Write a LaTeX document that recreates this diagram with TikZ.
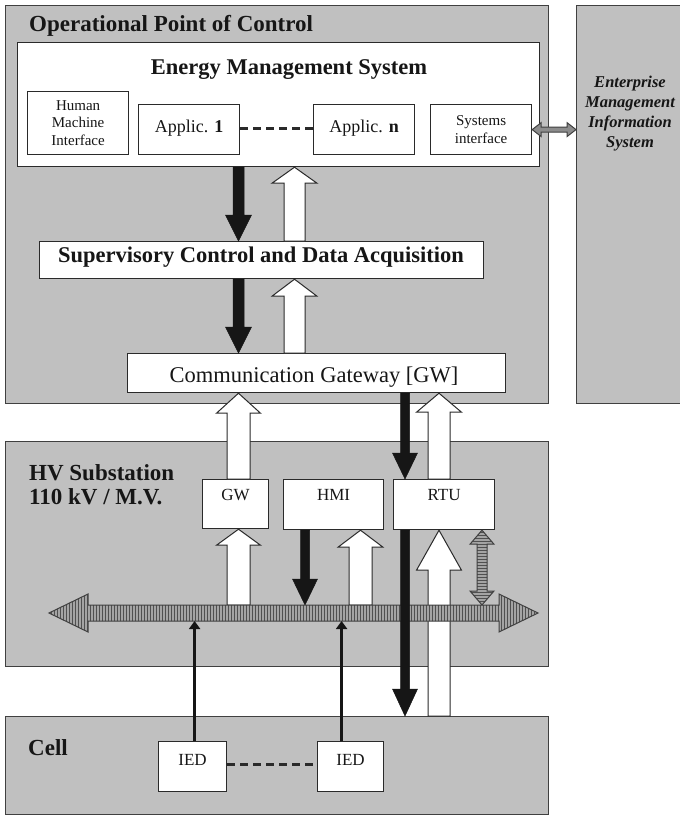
\documentclass[tikz,border=0pt]{standalone}
\usepackage{fontspec}
\setmainfont{Liberation Serif}
\usetikzlibrary{arrows.meta,patterns,calc}

\definecolor{panelgray}{HTML}{C0C0C0}
\definecolor{edge}{HTML}{404040}
\definecolor{ink}{HTML}{161616}
\definecolor{boxedge}{HTML}{2A2A2A}
\definecolor{busfill}{HTML}{A4A4A4}
\definecolor{hatch}{HTML}{505050}
\definecolor{linkgray}{HTML}{8C8C8C}

% vertical block arrow: style, x, from, to, shaft half, head half, head length
\newcommand\varr[7]{%
  \path[#1] let \p1=(#3), \p2=(#4), \n1={sign(\y2-\y1)} in
    (#2pt-#5pt,\y1) -- (#2pt-#5pt,{\y2-(\n1)*#7pt}) -- (#2pt-#6pt,{\y2-(\n1)*#7pt})
    -- (#2pt,\y2) -- (#2pt+#6pt,{\y2-(\n1)*#7pt}) -- (#2pt+#5pt,{\y2-(\n1)*#7pt})
    -- (#2pt+#5pt,\y1) -- cycle;}
% horizontal double block arrow: style, left end, right end, shaft half, head half, head length
\newcommand\hdarr[6]{%
  \path[#1] let \p1=(#2), \p2=(#3) in
   (\x1,\y1) -- (\x1+#6pt,\y1+#5pt) -- (\x1+#6pt,\y1+#4pt) -- (\x2-#6pt,\y1+#4pt)
   -- (\x2-#6pt,\y1+#5pt) -- (\x2,\y1) -- (\x2-#6pt,\y1-#5pt) -- (\x2-#6pt,\y1-#4pt)
   -- (\x1+#6pt,\y1-#4pt) -- (\x1+#6pt,\y1-#5pt) -- cycle;}
% vertical double block arrow: style, top end, bottom end, shaft half, head half, head length
\newcommand\vdarr[6]{%
  \path[#1] let \p1=(#2), \p2=(#3) in
   (\x1,\y1) -- (\x1+#5pt,\y1-#6pt) -- (\x1+#4pt,\y1-#6pt) -- (\x1+#4pt,\y2+#6pt)
   -- (\x1+#5pt,\y2+#6pt) -- (\x1,\y2) -- (\x1-#5pt,\y2+#6pt) -- (\x1-#4pt,\y2+#6pt)
   -- (\x1-#4pt,\y1-#6pt) -- (\x1-#5pt,\y1-#6pt) -- cycle;}

\begin{document}
\begin{tikzpicture}[x=1pt,y=-1pt,
  panel/.style={draw=edge, line width=1.3pt, fill=panelgray, anchor=north west, inner sep=0pt},
  box/.style={draw=boxedge, line width=1.2pt, fill=white, anchor=north west, inner sep=0pt},
  txt/.style={text=ink, inner sep=0pt},
  ptitle/.style={txt, font=\fontsize{23}{26}\selectfont\bfseries, anchor=base west},
  bigb/.style={txt, font=\fontsize{22.5}{26}\selectfont\bfseries, anchor=base},
  bigr/.style={txt, font=\fontsize{22.5}{26}\selectfont, anchor=base},
  apptxt/.style={txt, font=\fontsize{18}{21}\selectfont},
  smalltxt/.style={txt, font=\fontsize{15}{17.5}\selectfont, align=center},
  lbl/.style={txt, font=\fontsize{17}{20}\selectfont, anchor=base},
  emistxt/.style={txt, font=\fontsize{16.5}{20}\selectfont\bfseries\itshape, align=center},
  blackarr/.style={fill=ink, draw=ink, line width=0.5pt},
  whitearr/.style={fill=white, draw=boxedge, line width=1pt},
  busarr/.style={draw=edge, line width=1pt, preaction={fill=busfill}, pattern=vertical lines, pattern color=hatch},
  vbusarr/.style={draw=edge, line width=1pt, preaction={fill=busfill}, pattern=horizontal lines, pattern color=hatch},
  linkarr/.style={fill=linkgray, draw=edge, line width=1pt},
  iedlink/.style={draw=ink, line width=2.6pt, -{Triangle[length=8pt,width=11pt]}},
  dashlink/.style={draw=boxedge, line width=2.5pt, dash pattern=on 8pt off 5pt}
]
\useasboundingbox (0,0) rectangle (680,815);
\fill[white] (0,0) rectangle (680,815);

% ---------- panels ----------
\node[panel, minimum width=543pt, minimum height=398pt] (opc) at (5,5) {};
\node[panel, minimum width=108pt, minimum height=398pt] (emis) at (576,5) {};
\node[panel, minimum width=543pt, minimum height=225pt] (hvs) at (5,441) {};
\node[panel, minimum width=543pt, minimum height=98pt] (cell) at (5,716) {};

\node[ptitle] at (29,31) {Operational Point of Control};
\node[ptitle] at (29,480) {HV Substation};
\node[ptitle] at (29,504) {110 kV / M.V.};
\node[ptitle] at (28,755) {Cell};
\node[emistxt] at (630,114) {Enterprise\\Management\\Information\\System};

% ---------- EMS ----------
\node[box, minimum width=522pt, minimum height=124pt] (ems) at (17,42) {};
\node[bigb] at (289,74) {Energy Management System};
\node[box, minimum width=101pt, minimum height=63pt] (hmie) at (27,91) {};
\node[smalltxt] at (hmie.center) {Human\\Machine\\Interface};
\node[box, minimum width=101pt, minimum height=50pt] (app1) at (138,104) {};
\node[apptxt] at ([yshift=1pt]app1.center) {Applic. \textbf{1}};
\node[box, minimum width=101pt, minimum height=50pt] (appn) at (313,104) {};
\node[apptxt] at ([yshift=1pt]appn.center) {Applic. \textbf{n}};
\node[box, minimum width=101pt, minimum height=50pt] (sysif) at (430,104) {};
\node[smalltxt, font=\fontsize{15}{18}\selectfont] at (sysif.center) {Systems\\interface};
\draw[dashlink] ([yshift=1pt]app1.east) -- ([yshift=1pt]appn.west);

% ---------- SCADA / Gateway ----------
\node[box, minimum width=444pt, minimum height=37pt] (scada) at (39,241) {};
\node[bigb] at (261,262) {Supervisory Control and Data Acquisition};
\node[box, minimum width=378pt, minimum height=39pt] (cg) at (127,353) {};
\node[bigr] at (314,382) {Communication Gateway [GW]};

% ---------- substation boxes ----------
\node[box, minimum width=66pt, minimum height=49pt] (gw) at (202,479) {};
\node[lbl] at ([yshift=-21pt]gw.north) {GW};
\node[box, minimum width=100pt, minimum height=50pt] (hmi) at (283,479) {};
\node[lbl] at ([yshift=-21pt]hmi.north) {HMI};
\node[box, minimum width=101pt, minimum height=50pt] (rtu) at (393,479) {};
\node[lbl] at ([yshift=-21pt]rtu.north) {RTU};

% ---------- cell boxes ----------
\node[box, minimum width=68pt, minimum height=50pt] (iedA) at (158,741) {};
\node[lbl] at ([yshift=-24pt]iedA.north) {IED};
\node[box, minimum width=66pt, minimum height=50pt] (iedB) at (317,741) {};
\node[lbl] at ([yshift=-24pt]iedB.north) {IED};
\draw[dashlink] ([yshift=2pt]iedA.east) -- ([yshift=2pt]iedB.west);

% ---------- bus coordinates ----------
\coordinate (busL) at (49,613);
\coordinate (busR) at (538,613);
\coordinate (busT) at (0,605);
\coordinate (busBt) at (0,621);
\coordinate (vgx) at (482,0);

% ---------- EMS <-> EMIS ----------
\hdarr{linkarr}{sysif.east}{emis.west |- sysif.east}{2.5}{7}{9}

% ---------- control room arrows ----------
\varr{blackarr}{238.5}{ems.south}{scada.north}{5.5}{13}{26}
\varr{whitearr}{294.5}{scada.north}{ems.south}{10.5}{22.5}{16}
\varr{blackarr}{238.5}{scada.south}{cg.north}{5.5}{13}{26}
\varr{whitearr}{294.5}{cg.north}{scada.south}{10.5}{22.5}{17}

% ---------- gateway <-> substation ----------
\varr{whitearr}{238.5}{gw.north}{cg.south}{11.5}{22}{20}
\varr{blackarr}{405}{cg.south}{rtu.north}{4.5}{12.5}{26}
\varr{whitearr}{439}{rtu.north}{cg.south}{11}{22.5}{19}

% ---------- bus level ----------
\varr{whitearr}{238.5}{busT}{gw.south}{11.5}{22}{16}
\varr{whitearr}{360.5}{busT}{hmi.south}{11.5}{22.5}{17}
\varr{blackarr}{305}{hmi.south}{busT}{4.5}{12.5}{26}
\varr{whitearr}{439}{cell.north}{rtu.south}{11}{22.5}{40}
\hdarr{busarr}{busL}{busR}{8}{19}{39}
\vdarr{vbusarr}{rtu.south -| vgx}{busT -| vgx}{5}{12}{14}
\varr{blackarr}{405}{rtu.south}{cell.north}{4.5}{12.5}{27}

% ---------- IED links ----------
\draw[iedlink] ([xshift=2pt]iedA.north) -- ([xshift=2pt]iedA.north |- busBt);
\draw[iedlink] ([xshift=-9pt]iedB.north) -- ([xshift=-9pt]iedB.north |- busBt);
\end{tikzpicture}
\end{document}
